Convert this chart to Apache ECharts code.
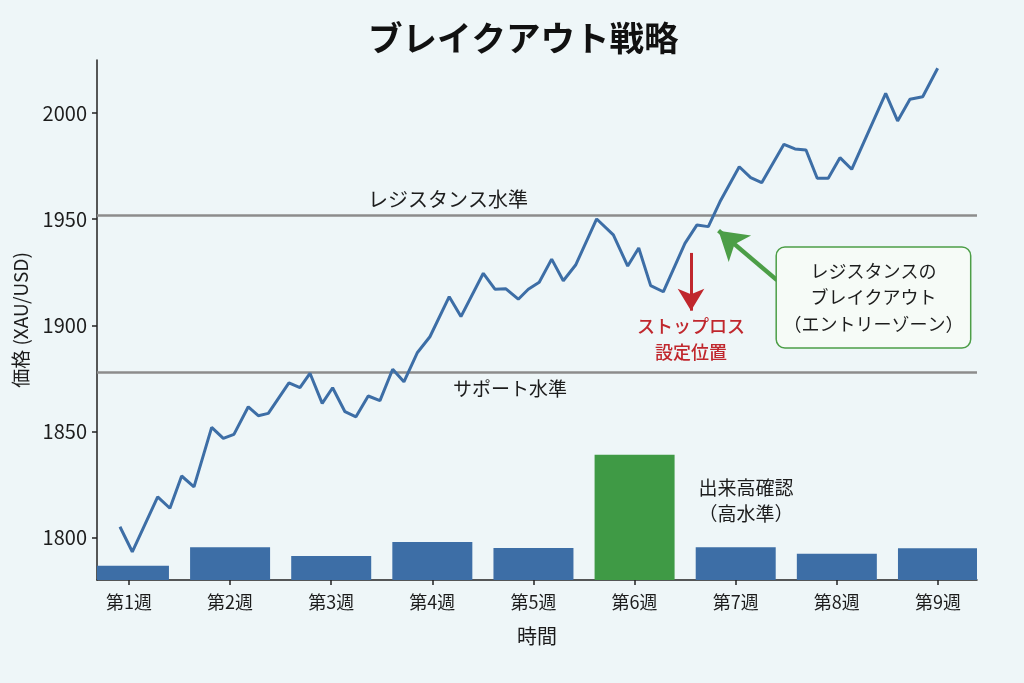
<!DOCTYPE html>
<html>
<head>
<meta charset="utf-8">
<script src="https://cdn.jsdelivr.net/npm/echarts@6/dist/echarts.min.js"></script>
<style>
html,body{margin:0;padding:0;background:#eef6f8;}
#chart{width:1024px;height:683px;}
</style>
</head>
<body>
<div id="chart"></div>
<script>
// ---- data ----
const titleText = 'ブレイクアウト戦略';
const weeks = [1, 2, 3, 4, 5, 6, 7, 8, 9];
const weekLabels = ['第1週', '第2週', '第3週', '第4週', '第5週', '第6週', '第7週', '第8週', '第9週'];
const volume = [110, 252, 185, 292, 246, 964, 252, 202, 244];
const highVolumeWeek = 6;
const yTicks = [1800, 1850, 1900, 1950, 2000];
// price path: time in weeks, price in USD
const priceTime = [0.911, 1.033, 1.284, 1.405, 1.521, 1.643, 1.818, 1.933, 2.038, 2.180, 2.279, 2.378,
  2.582, 2.691, 2.790, 2.911, 3.014, 3.136, 3.245, 3.366, 3.482, 3.608, 3.719, 3.853, 3.976,
  4.167, 4.283, 4.504, 4.619, 4.728, 4.850, 4.949, 5.057, 5.180, 5.295, 5.417, 5.625, 5.790,
  5.932, 6.041, 6.159, 6.284, 6.498, 6.617, 6.729, 6.844, 7.035, 7.148, 7.257, 7.477, 7.586,
  7.695, 7.806, 7.915, 8.031, 8.147, 8.483, 8.601, 8.723, 8.849, 8.997];
const priceValue = [1805.1, 1793.3, 1819.2, 1813.8, 1829.0, 1823.9, 1851.9, 1846.7, 1848.6, 1861.6, 1857.4, 1858.5,
  1872.9, 1870.6, 1877.4, 1863.2, 1870.6, 1859.3, 1856.9, 1866.7, 1864.5, 1879.3, 1873.4, 1887.2, 1894.6,
  1913.5, 1904.1, 1924.5, 1917.0, 1917.2, 1912.3, 1917.0, 1920.3, 1931.2, 1921.0, 1928.4, 1950.1, 1942.6,
  1927.9, 1936.4, 1918.7, 1915.8, 1938.6, 1947.3, 1946.5, 1958.2, 1974.7, 1969.6, 1967.2, 1985.3, 1983.1,
  1982.6, 1969.3, 1969.3, 1979.0, 1973.5, 2009.3, 1996.3, 2006.5, 2007.7, 2021.1];
const resistanceLevel = 1952;
const supportLevel = 1878;
const resistanceLabel = 'レジスタンス水準';
const supportLabel = 'サポート水準';
const resistanceLabelAt = [4.155, 1959.5];
const supportLabelAt = [4.768, 1870.0];
const stopArrow = [[6.558, 1934.1], [6.558, 1906.9]];
const stopLabel = 'ストップロス\n設定位置';
const stopLabelAt = [6.558, 1893.3];
const breakoutArrow = [[7.408, 1921.3], [6.83, 1944.6]];
const breakoutLabel = 'レジスタンスの\nブレイクアウト\n（エントリーゾーン）';
const breakoutLabelAt = [8.362, 1913.1];
const volumeLabel = '出来高確認\n（高水準）';
const volumeLabelAt = [7.101, 1817.2];

// ---- styles ----
const FONT = 'Noto Sans CJK JP';
const INK = '#1c1c1c';
const BLUE = '#3d6ea6';
const GREEN_BAR = '#3f9a45';
const GREEN = '#4c9e47';
const RED = '#c0272d';
const GRAY = '#8c8c8c';
const BAR_W = 80;

function textPoint(coord, text, style) {
  return {
    coord: coord,
    symbol: 'rect',
    symbolSize: 1,
    itemStyle: {color: 'rgba(0,0,0,0)'},
    label: Object.assign({
      show: true, position: 'inside', formatter: text,
      fontFamily: FONT, fontSize: 19, color: INK, align: 'center', lineHeight: 26
    }, style || {})
  };
}

const chart = echarts.init(document.getElementById('chart'), null, {renderer: 'canvas'});
chart.setOption({
  backgroundColor: '#eef6f8',
  animation: false,
  title: {
    text: titleText, left: 363, top: 16,
    textStyle: {fontFamily: FONT, fontSize: 34.5, fontWeight: 'bold', color: '#111'}
  },
  grid: {left: 97, right: 47, top: 60, bottom: 103, containLabel: false},
  xAxis: {
    type: 'value', min: 0.684, max: 9.386,
    name: '時間', nameLocation: 'middle', nameGap: 46,
    nameTextStyle: {fontFamily: FONT, fontSize: 20, color: INK},
    axisLine: {show: true, lineStyle: {color: '#222', width: 1.5}},
    axisTick: {show: true, length: 5, lineStyle: {color: '#222', width: 1.5}, customValues: weeks},
    axisLabel: {
      customValues: weeks, margin: 13,
      fontFamily: FONT, fontSize: 18, color: INK,
      formatter: v => weekLabels[weeks.indexOf(Math.round(v))] || ''
    },
    splitLine: {show: false}
  },
  yAxis: [{
    type: 'value', min: 1780, max: 2025,
    name: '価格 (XAU/USD)', nameLocation: 'middle', nameGap: 67,
    nameTextStyle: {fontFamily: FONT, fontSize: 19, color: INK},
    axisLine: {show: true, lineStyle: {color: '#222', width: 1.5}},
    axisTick: {show: true, length: 5, lineStyle: {color: '#222', width: 1.5}, customValues: yTicks},
    axisLabel: {customValues: yTicks, margin: 10, fontFamily: FONT, fontSize: 20, color: INK,
      formatter: v => String(v)},
    splitLine: {show: false}
  }, {
    type: 'value', min: 0, max: 4000, show: false, splitLine: {show: false}
  }],
  series: [{
    type: 'custom', yAxisIndex: 1, z: 1,
    data: weeks.map((w, i) => [w, volume[i]]),
    renderItem: function (params, api) {
      const x = api.value(0);
      const top = api.coord([x, api.value(1)]);
      const base = api.coord([x, 0]);
      const cs = params.coordSys;
      const shape = echarts.graphic.clipRectByRect(
        {x: top[0] - BAR_W / 2, y: top[1], width: BAR_W, height: base[1] - top[1]},
        {x: cs.x, y: cs.y, width: cs.width, height: cs.height}
      );
      if (!shape) return null;
      return {
        type: 'rect', shape: shape,
        style: {fill: x === highVolumeWeek ? GREEN_BAR : BLUE}
      };
    }
  }, {
    type: 'line', yAxisIndex: 0, z: 3,
    data: priceTime.map((t, i) => [t, priceValue[i]]),
    symbol: 'none',
    lineStyle: {color: BLUE, width: 3},
    markLine: {
      silent: true, z: 2,
      symbol: ['none', 'none'],
      label: {show: false},
      data: [
        {yAxis: resistanceLevel, lineStyle: {color: GRAY, width: 2.5, type: 'solid'}},
        {yAxis: supportLevel, lineStyle: {color: GRAY, width: 2.5, type: 'solid'}},
        [{coord: stopArrow[0], symbol: 'none', lineStyle: {color: RED, width: 3, type: 'solid'}},
         {coord: stopArrow[1], symbol: 'arrow', symbolSize: [20, 22]}],
        [{coord: breakoutArrow[0], symbol: 'none', lineStyle: {color: GREEN, width: 4.5, type: 'solid'}},
         {coord: breakoutArrow[1], symbol: 'arrow', symbolSize: [26, 28]}]
      ]
    },
    markPoint: {
      silent: true,
      data: [
        textPoint(resistanceLabelAt, resistanceLabel, {fontSize: 20}),
        textPoint(supportLabelAt, supportLabel),
        textPoint(stopLabelAt, stopLabel, {color: RED, fontSize: 18, fontWeight: 500}),
        textPoint(volumeLabelAt, volumeLabel),
        textPoint(breakoutLabelAt, breakoutLabel, {
          fontSize: 18, lineHeight: 26.5, width: 177, padding: [10, 8, 10, 8],
          backgroundColor: '#f6fbf7', borderColor: GREEN, borderWidth: 1.5, borderRadius: 8
        })
      ]
    }
  }]
});
</script>
</body>
</html>
